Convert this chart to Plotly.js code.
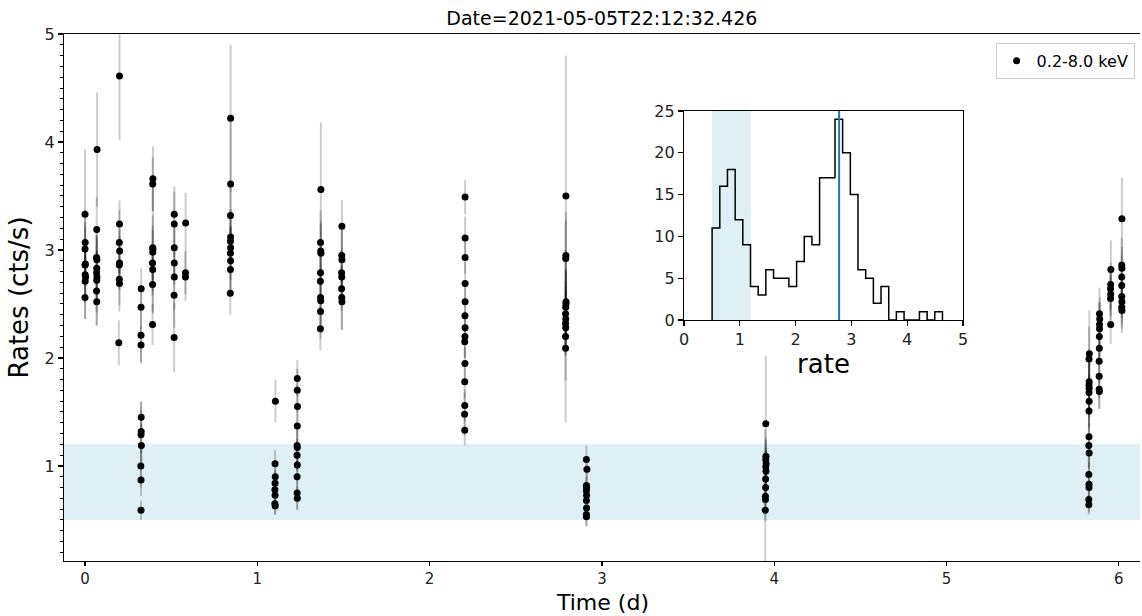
<!DOCTYPE html>
<html>
<head>
<meta charset="utf-8">
<script src="https://cdn.plot.ly/plotly-3.0.1.min.js"></script>
<style>html,body{margin:0;padding:0;background:#fff;}#chart{width:1142px;height:616px;}</style>
</head>
<body>
<div id="chart"></div>
<script>
// ---- Light curve data (time in days, rate in cts/s, 1-sigma error) ----
const timeDays = [
  0.000,0.001,0.000,0.002,0.000,0.001,0.003,0.001,0.000,
  0.070,0.068,0.067,0.069,0.068,0.067,0.069,0.068,0.067,0.068,
  0.200,0.200,0.199,0.201,0.200,0.199,0.199,0.200,0.196,
  0.326,0.325,0.325,0.325,0.326,0.326,0.325,0.327,0.324,0.325,0.325,
  0.394,0.393,0.393,0.394,0.393,0.392,0.393,0.392,0.392,
  0.518,0.518,0.518,0.518,0.518,0.517,0.517,
  0.584,0.583,0.583,
  0.845,0.845,0.844,0.845,0.844,0.845,0.844,0.845,0.844,0.843,
  1.105,1.103,1.104,1.103,1.102,1.103,1.102,1.104,
  1.232,1.232,1.233,1.232,1.231,1.232,1.231,1.232,1.231,1.231,1.232,
  1.369,1.367,1.368,1.369,1.367,1.366,1.367,1.368,1.367,1.366,
  1.491,1.490,1.491,1.489,1.490,1.489,1.490,1.491,
  2.206,2.206,2.206,2.206,2.206,2.205,2.206,2.205,2.204,2.205,2.204,2.204,2.203,2.204,
  2.791,2.791,2.790,2.792,2.791,2.790,2.789,2.790,2.789,2.790,2.789,2.789,
  2.910,2.913,2.910,2.911,2.910,2.911,2.910,2.911,2.910,2.910,
  3.951,3.952,3.951,3.953,3.951,3.952,3.950,3.950,3.949,3.949,3.948,
  5.829,5.827,5.828,5.827,5.828,5.827,5.828,5.827,5.827,5.826,5.828,5.826,5.827,5.827,5.826,5.826,
  5.888,5.889,5.888,5.888,5.887,5.887,5.886,5.886,5.886,5.887,
  5.954,5.953,5.952,5.953,5.952,5.953,
  6.018,6.017,6.018,6.017,6.017,6.017,6.018,6.017,6.018
];
const rateCts = [
  3.33,3.07,3.01,2.87,2.86,2.77,2.75,2.71,2.56,
  3.93,3.19,2.93,2.91,2.83,2.79,2.75,2.72,2.62,2.52,
  4.61,3.24,3.07,2.99,2.88,2.86,2.73,2.69,2.14,
  2.64,2.47,2.21,2.12,1.45,1.32,1.29,1.19,1.00,0.87,0.59,
  3.66,3.61,3.02,3.01,2.98,2.88,2.82,2.68,2.31,
  3.33,3.24,3.02,2.88,2.75,2.58,2.19,
  3.25,2.79,2.75,
  4.22,3.61,3.32,3.12,3.08,3.02,2.97,2.90,2.82,2.60,
  1.60,1.02,0.90,0.84,0.78,0.73,0.65,0.63,
  1.81,1.70,1.55,1.37,1.19,1.17,1.10,1.01,0.90,0.75,0.70,
  3.56,3.07,2.99,2.97,2.79,2.71,2.56,2.53,2.43,2.27,
  3.22,2.95,2.91,2.79,2.75,2.64,2.56,2.52,
  3.49,3.11,2.93,2.69,2.52,2.39,2.28,2.20,2.15,1.95,1.78,1.56,1.48,1.33,
  3.50,2.95,2.92,2.52,2.50,2.47,2.41,2.36,2.32,2.28,2.20,2.09,
  1.06,0.97,0.82,0.80,0.77,0.73,0.68,0.61,0.55,0.53,
  1.39,1.09,1.06,1.02,0.99,0.95,0.88,0.80,0.72,0.69,0.59,
  2.04,1.99,1.78,1.75,1.72,1.68,1.60,1.51,1.27,1.19,1.12,0.92,0.83,0.80,0.69,0.64,
  2.41,2.36,2.31,2.27,2.20,2.09,1.97,1.83,1.71,1.69,
  2.82,2.68,2.64,2.59,2.55,2.31,
  3.29,2.86,2.83,2.75,2.67,2.57,2.52,2.47,2.44
];
const rateErr = [
  0.60,0.30,0.25,0.20,0.35,0.25,0.20,0.35,0.20,
  0.53,0.30,0.25,0.20,0.30,0.20,0.25,0.42,0.20,0.22,
  0.59,0.22,0.30,0.20,0.25,0.20,0.30,0.20,0.21,
  0.19,0.20,0.25,0.17,0.15,0.20,0.30,0.20,0.20,0.15,0.09,
  0.30,0.25,0.30,0.60,0.25,0.30,0.20,0.25,0.19,
  0.26,0.30,0.25,0.20,0.30,0.30,0.32,
  0.28,0.20,0.22,
  0.68,0.60,0.30,0.25,0.30,0.20,0.25,0.30,0.22,0.20,
  0.20,0.13,0.15,0.12,0.15,0.12,0.10,0.08,
  0.17,0.20,0.20,0.20,0.20,0.20,0.15,0.15,0.15,0.15,0.11,
  0.62,0.30,0.25,0.30,0.25,0.30,0.25,0.30,0.25,0.20,
  0.24,0.25,0.30,0.20,0.25,0.20,0.30,0.26,
  0.16,0.20,0.15,0.20,0.15,0.15,0.15,0.20,0.15,0.15,0.15,0.15,0.20,0.14,
  1.30,0.40,0.35,0.30,0.30,0.35,0.30,0.30,0.30,0.25,0.80,0.30,
  0.13,0.10,0.12,0.10,0.10,0.10,0.12,0.10,0.10,0.09,
  0.63,0.15,0.20,0.15,0.15,0.20,0.15,0.20,0.15,0.20,0.75,
  0.40,0.30,0.30,0.30,0.25,0.30,0.25,0.20,0.20,0.20,0.15,0.15,0.20,0.15,0.12,0.09,
  0.24,0.20,0.20,0.25,0.20,0.20,0.20,0.20,0.18,0.16,
  0.27,0.20,0.20,0.20,0.20,0.18,
  0.38,0.25,0.20,0.20,0.20,0.20,0.20,0.20,0.21
];

// ---- Histogram of rates (inset) ----
const histEdges = [0.504,0.642,0.779,0.917,1.054,1.192,1.330,1.467,1.605,1.742,1.880,
  2.018,2.155,2.293,2.430,2.568,2.706,2.843,2.981,3.118,3.256,3.394,3.531,3.669,
  3.806,3.944,4.082,4.219,4.357,4.494,4.632];
const histCounts = [11,16,18,12,9,4,3,6,5,5,4,7,10,9,17,17,24,20,15,6,5,2,4,0,1,0,0,1,0,1];

// ---- Reference levels ----
const lowBand = [0.5, 1.2];
const medianRate = 2.78;

const seriesName = '0.2-8.0 keV';
const chartTitle = 'Date=2021-05-05T22:12:32.426';
const xTitle = 'Time (d)';
const yTitle = 'Rates (cts/s)';
const insetXTitle = 'rate';
const xTicks = [0,1,2,3,4,5,6];
const yTicks = [1,2,3,4,5];
const insetXTicks = [0,1,2,3,4,5];
const insetYTicks = [0,5,10,15,20,25];

const stepX = [histEdges[0]].concat(histEdges);
const stepY = [0].concat(histCounts, [0]);

const lc = {
  type:'scatter', mode:'markers', name: seriesName,
  x: timeDays, y: rateCts,
  marker:{color:'#000', size:7},
  error_y:{type:'data', array: rateErr, visible:true, color:'rgba(0,0,0,0.2)', thickness:2, width:0},
  xaxis:'x', yaxis:'y', showlegend:true
};
const hist = {
  type:'scatter', mode:'lines', x: stepX, y: stepY,
  line:{color:'#000', width:1.5, shape:'hv'},
  xaxis:'x2', yaxis:'y2', showlegend:false, hoverinfo:'skip'
};

const axCommon = {
  ticks:'outside', ticklen:5, tickwidth:1.2, tickcolor:'#000',
  showline:true, linecolor:'#000', linewidth:1.2,
  showgrid:false, zeroline:false, tickfont:{size:16, color:'#222'}
};
const band = 'rgba(173,216,230,0.4)';

const layout = {
  width:1142, height:616,
  margin:{l:64, r:2, t:34, b:55},
  paper_bgcolor:'#fff', plot_bgcolor:'rgba(0,0,0,0)',
  font:{family:'DejaVu Sans, sans-serif', size:16, color:'#000'},
  title:{text: chartTitle, font:{size:19}, x:0.527, xref:'container', xanchor:'center', y:0.971, yref:'container', yanchor:'middle'},
  showlegend:true,
  legend:{x:0.995, xanchor:'right', y:0.983, yanchor:'top', bordercolor:'#cccccc', borderwidth:1, bgcolor:'#fff', font:{size:16}},
  xaxis: Object.assign({}, axCommon, {
    domain:[0,1], anchor:'y', range:[-0.122,6.123], tickmode:'array', tickvals:xTicks, mirror:true,
    ticklen:4, tickfont:{size:15, color:'#222'}
  }),
  yaxis: Object.assign({}, axCommon, {
    domain:[0,1], anchor:'x', range:[0.12,5], tickmode:'array', tickvals:yTicks,
    minor:{tick0:0, dtick:0.1, ticks:'outside', ticklen:3, tickwidth:1, tickcolor:'#000', showgrid:false},
    title:{text: yTitle, font:{size:26}, standoff:8}
  }),
  xaxis2: Object.assign({}, axCommon, {
    domain:[0.5762,0.8355], anchor:'y2', range:[0,5], tickmode:'array', tickvals:insetXTicks, mirror:true,
    title:{text: insetXTitle, font:{size:26}, standoff:4}
  }),
  yaxis2: Object.assign({}, axCommon, {
    domain:[0.4573,0.8539], anchor:'x2', range:[0,25], tickmode:'array', tickvals:insetYTicks, mirror:true
  }),
  annotations:[
    {text: xTitle, xref:'paper', x:0.5, xanchor:'center', yref:'paper', y:-0.0778, yanchor:'middle',
     showarrow:false, font:{size:22, color:'#000'}}
  ],
  shapes:[
    {type:'rect', xref:'paper', x0:0, x1:1, yref:'y', y0:lowBand[0], y1:lowBand[1], fillcolor:band, line:{width:0}, layer:'below'},
    {type:'rect', xref:'x2', x0:lowBand[0], x1:lowBand[1], yref:'y2 domain', y0:0, y1:1, fillcolor:band, line:{width:0}, layer:'below'},
    {type:'line', xref:'x2', x0:medianRate, x1:medianRate, yref:'y2 domain', y0:0, y1:1, line:{color:'#1f77b4', width:2}}
  ]
};

Plotly.newPlot('chart', [lc, hist], layout, {displayModeBar:false, staticPlot:true});
</script>
</body>
</html>
